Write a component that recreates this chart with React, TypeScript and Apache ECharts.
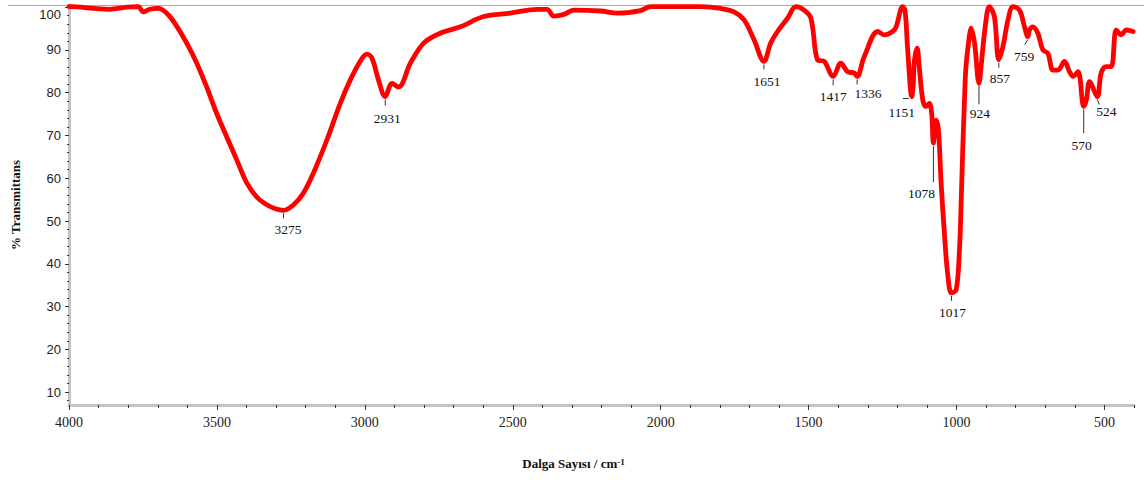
import React, { useEffect, useRef } from "react";
import * as echarts from "echarts";

// ---- data ----
const wavenumbers = [
  4000, 3992, 3918, 3862, 3805, 3766, 3749, 3727, 3698, 3670, 3642, 3602, 3568, 3535, 3501, 3467, 3433, 3399,
  3365, 3331, 3300, 3275, 3241, 3208, 3174, 3128, 3083, 3049, 3016, 2993, 2976, 2954, 2931, 2908, 2886, 2846,
  2801, 2745, 2677, 2598, 2508, 2417, 2384, 2361, 2327, 2294, 2203, 2147, 2068, 2034, 1865, 1797, 1752, 1718,
  1684, 1651, 1628, 1605, 1571, 1543, 1515, 1492, 1470, 1447, 1417, 1391, 1368, 1346, 1336, 1312, 1266, 1244,
  1216, 1204, 1182, 1174, 1165, 1151, 1146, 1142, 1133, 1126, 1114, 1103, 1092, 1084, 1078, 1069, 1061, 1052,
  1041, 1030, 1017, 1001, 990, 984, 979, 973, 968, 956, 951, 939, 924, 917, 903, 889, 872, 857, 843, 826, 809,
  787, 770, 759, 753, 742, 725, 708, 691, 674, 657, 635, 618, 606, 589, 570, 561, 550, 524, 511, 494, 477, 460,
  443, 426, 403,
];
const transmittance = [
  100.1, 100.1, 99.7, 99.5, 100.0, 100.1, 98.9, 99.5, 99.7, 98.6, 96.2, 91.6, 86.9, 81.4, 75.2, 69.7, 64.3, 58.9,
  55.6, 53.8, 52.8, 52.5, 53.8, 56.5, 61.2, 69.0, 77.5, 83.0, 87.3, 89.0, 88.1, 83.0, 79.1, 82.2, 81.3, 86.9,
  91.6, 93.9, 95.4, 97.8, 98.6, 99.5, 99.5, 97.9, 98.3, 99.3, 99.1, 98.6, 99.2, 100.1, 100.1, 99.7, 98.9, 97.0,
  92.3, 87.3, 91.6, 94.3, 97.4, 100.1, 99.3, 97.4, 87.7, 87.3, 83.8, 86.9, 84.9, 84.6, 83.8, 88.4, 94.3, 93.5,
  94.3, 95.4, 100.1, 99.3, 90.0, 79.1, 82.2, 87.7, 90.4, 86.1, 78.3, 76.8, 77.5, 75.2, 68.2, 73.6, 71.3, 58.9,
  47.2, 37.8, 33.2, 33.9, 43.3, 54.9, 66.6, 78.3, 86.1, 93.5, 95.1, 91.6, 82.2, 86.1, 95.4, 100.1, 97.8, 87.7, 90.8, 97.0, 100.1,
  99.3, 95.4, 93.1, 94.7, 95.4, 93.9, 90.0, 89.2, 85.3, 85.3, 87.3, 84.9, 83.8, 84.9, 76.8, 78.3, 82.6, 79.1, 84.6, 86.1, 86.1, 94.7,
  93.5, 94.7, 94.3,
];
const peakWavenumbers = [3275, 2931, 1651, 1417, 1336, 1151, 1078, 1017, 924, 857, 759, 570, 524];
const peakTransmittance = [52.5, 79.1, 87.3, 83.8, 83.8, 79.1, 68.2, 33.2, 82.2, 87.7, 93.1, 76.8, 79.1];
const xTickLabels = [4000, 3500, 3000, 2500, 2000, 1500, 1000, 500];
const xMinorTicks = [3900, 3800, 3700, 3600, 3400, 3300, 3200, 3100, 2900, 2800, 2700, 2600, 2400, 2300, 2200, 2100,
  1900, 1800, 1700, 1600, 1400, 1300, 1200, 1100, 900, 800, 700, 600, 400];
const yTickLabels = [10, 20, 30, 40, 50, 60, 70, 80, 90, 100];
const yMinorTicks = [8, 12, 14, 16, 18, 22, 24, 26, 28, 32, 34, 36, 38, 42, 44, 46, 48, 52, 54, 56, 58, 62, 64, 66, 68,
  72, 74, 76, 78, 82, 84, 86, 88, 92, 94, 96, 98];

// ---- annotation layout (pixel offsets from each peak point) ----
const labelOffsets = [
  [4.6, 19.5], [2, 21.6], [3, 20], [0, 20.5], [11, 17.5], [-10, 16], [-12, 50], [1, 19.5], [1, 30], [1, 19],
  [-3.6, 19.5], [-2, 39], [9, 15],
];
const leadLines = [
  [0, 3, 0, 8], [0, 3, 0, 9], [0, 3, 0, 8], [0, 3, 0, 9], [0, 3, 0, 8], [-3, 2, -9, 2], [0, 3, 0, 39],
  [0, 3, 0, 8], [0, 2, 0, 21], [0, 3, 0, 8], [0, 3, -3, 8], [0, 3, 0, 27], [0, 3, 2, 8],
];

const SERIF = "Liberation Serif";
const SANS = "Liberation Sans";

export default function App() {
  const ref = useRef<HTMLDivElement>(null);
  useEffect(() => {
    document.body.style.margin = "0";
    const chart = echarts.init(ref.current!, null, { renderer: "svg" });
    const xBase = {
      type: "value" as const,
      min: 400,
      max: 4000,
      inverse: true,
      position: "bottom" as const,
      splitLine: { show: false },
    };
    const yBase = {
      type: "value" as const,
      min: 7,
      max: 100.5,
      position: "left" as const,
      splitLine: { show: false },
    };
    chart.setOption({
      animation: false,
      textStyle: { fontFamily: SERIF },
      grid: { left: 69, right: 10, top: 5, bottom: 75, containLabel: false },
      graphic: [
        {
          type: "line",
          shape: { x1: 8, y1: 5.5, x2: 1144, y2: 5.5 },
          style: { stroke: "#a8a8a8", lineWidth: 1 },
          z: 0,
        },
      ],
      xAxis: [
        {
          ...xBase,
          axisLine: { show: true, lineStyle: { color: "#c4c4c4", width: 3 } },
          axisTick: { show: true, customValues: xTickLabels, length: 5, lineStyle: { color: "#333", width: 1 } },
          axisLabel: { show: false },
          name: "{a|Dalga Sayısı / cm}{b|-1}",
          nameLocation: "middle",
          nameGap: 52,
          nameTextStyle: {
            padding: [0, 56, 0, 0],
            rich: {
              a: { fontFamily: SERIF, fontWeight: "bold", fontSize: 13, color: "#111" },
              b: { fontFamily: SERIF, fontWeight: "bold", fontSize: 9, color: "#111", verticalAlign: "top" },
            },
          },
        },
        {
          ...xBase,
          axisLine: { show: false },
          axisLabel: { show: false },
          axisTick: { show: true, customValues: xMinorTicks, length: 3, lineStyle: { color: "#333", width: 1 } },
        },
      ],
      yAxis: [
        {
          ...yBase,
          axisLine: { show: true, lineStyle: { color: "#c4c4c4", width: 3 } },
          axisTick: { show: true, customValues: yTickLabels, length: 4, lineStyle: { color: "#333", width: 1 } },
          axisLabel: {
            customValues: yTickLabels,
            margin: 8,
            fontFamily: SANS,
            fontSize: 13,
            color: "#222",
            formatter: (v: number) => (v === 100 ? "{top|100}" : String(v)),
            rich: { top: { fontFamily: SANS, fontSize: 13, color: "#222", padding: [14, 0, 0, 0] } },
          },
          name: "% Transmittans",
          nameLocation: "middle",
          nameGap: 47,
          nameRotate: 90,
          nameTextStyle: { fontFamily: SERIF, fontWeight: "bold", fontSize: 13, color: "#111" },
        },
        {
          ...yBase,
          axisLine: { show: false },
          axisLabel: { show: false },
          axisTick: { show: true, customValues: yMinorTicks, length: 2, lineStyle: { color: "#333", width: 1 } },
        },
      ],
      series: [
        {
          type: "line",
          xAxisIndex: 0,
          yAxisIndex: 0,
          data: wavenumbers.map((w, i) => [w, transmittance[i]]),
          showSymbol: false,
          symbol: "none",
          smooth: 0.35,
          lineStyle: { color: "#ff0000", width: 4.8, join: "round", cap: "round" },
          z: 2,
          silent: true,
        },
        {
          // x tick labels, placed through the axis scale
          type: "custom",
          xAxisIndex: 0,
          yAxisIndex: 0,
          data: xTickLabels.map((v) => [v, 7]),
          clip: false,
          silent: true,
          z: 5,
          renderItem: (params: any, api: any) => {
            const p = api.coord([api.value(0), api.value(1)]);
            return {
              type: "text",
              x: p[0],
              y: p[1] + 10,
              style: {
                text: String(xTickLabels[params.dataIndex]),
                fontFamily: SERIF,
                fontSize: 14,
                fill: "#222",
                align: "center",
                verticalAlign: "top",
              },
            };
          },
        },
        {
          type: "custom",
          xAxisIndex: 0,
          yAxisIndex: 0,
          data: peakWavenumbers.map((w, i) => [w, peakTransmittance[i]]),
          clip: false,
          silent: true,
          z: 5,
          renderItem: (params: any, api: any) => {
            const i = params.dataIndex;
            const p = api.coord([api.value(0), api.value(1)]);
            const o = labelOffsets[i];
            const l = leadLines[i];
            return {
              type: "group",
              children: [
                {
                  type: "line",
                  shape: { x1: p[0] + l[0], y1: p[1] + l[1], x2: p[0] + l[2], y2: p[1] + l[3] },
                  style: { stroke: "#333", lineWidth: 1 },
                },
                {
                  type: "text",
                  x: p[0] + o[0],
                  y: p[1] + o[1],
                  style: {
                    text: String(peakWavenumbers[i]),
                    fontFamily: SERIF,
                    fontSize: 13.5,
                    fill: "#111",
                    align: "center",
                    verticalAlign: "middle",
                  },
                },
              ],
            };
          },
        },
      ],
    });
    return () => chart.dispose();
  }, []);
  return <div ref={ref} style={{ width: 1144, height: 480 }} />;
}
